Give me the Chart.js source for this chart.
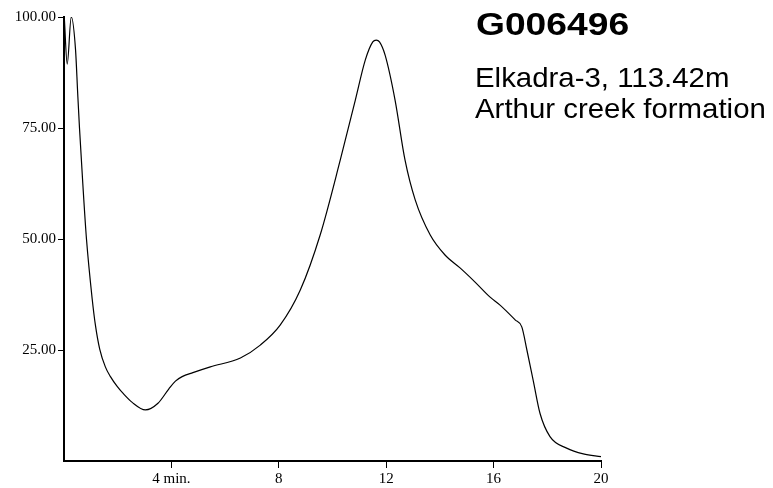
<!DOCTYPE html>
<html>
<head>
<meta charset="utf-8">
<script src="https://cdn.jsdelivr.net/npm/chart.js@4.4.1/dist/chart.umd.min.js"></script>
<style>
  html, body { margin: 0; padding: 0; background: #fff; }
  #wrap { width: 773px; height: 488px; }
</style>
</head>
<body>
<div id="wrap"><canvas id="gpc" width="773" height="488"></canvas></div>
<script>
// elution trace: time (min) vs relative response
const times = [0.01, 0.12, 0.27, 0.43, 0.51, 0.577, 0.7, 0.837, 1.05, 1.17, 1.33, 1.54, 1.73, 1.98, 2.22, 2.54, 3.03, 3.5, 3.9, 4.15, 4.4, 4.8, 5.45, 6.57, 7.31, 8.05, 8.8, 9.54, 10.29, 10.85, 11.22, 11.5, 11.63, 11.75, 11.96, 12.33, 12.7, 13.08, 13.64, 14.19, 14.75, 15.31, 15.87, 16.24, 16.8, 17.05, 17.24, 17.48, 17.73, 18.1, 18.72, 19.34, 20.0];
const response = [100, 89.4, 100, 92.6, 82.8, 75, 62.5, 50, 36.5, 30.6, 25.2, 21.2, 19, 16.8, 15.1, 13.2, 11.5, 13.0, 16.2, 18.0, 19.0, 19.9, 21.2, 23.2, 26.1, 30.6, 38.5, 50.9, 67.8, 81.3, 90.3, 94.4, 94.8, 94.4, 91.4, 81.3, 67.8, 58.8, 50.9, 46.4, 43.5, 40.3, 36.9, 35.1, 31.8, 30.2, 25, 18, 10.7, 5.5, 2.9, 1.6, 1.0];

const xTickValues = [4, 8, 12, 16, 20];
const xTickLabels = ['4 min.', '8', '12', '16', '20'];
const yTickValues = [25, 50, 75, 100];
const yTickLabels = ['25.00', '50.00', '75.00', '100.00'];

const sampleId = 'G006496';
const infoLines = ['Elkadra-3, 113.42m', 'Arthur creek formation'];

const points = times.map((t, i) => ({ x: t, y: response[i] }));

// draws text slightly widened, like the original plot's typeface
function wideText(ctx, text, x, y, sx) {
  ctx.save();
  ctx.translate(x, y);
  ctx.scale(sx, 1);
  ctx.fillText(text, 0, 0);
  ctx.restore();
}

const headerText = {
  id: 'headerText',
  afterDraw(chart) {
    const ctx = chart.ctx;
    ctx.save();
    ctx.fillStyle = '#000';
    ctx.textBaseline = 'alphabetic';
    ctx.textAlign = 'left';
    ctx.font = 'bold 31px "Liberation Sans", Arial, sans-serif';
    wideText(ctx, sampleId, 476, 35, 1.2);
    ctx.font = '28px "Liberation Sans", Arial, sans-serif';
    wideText(ctx, infoLines[0], 475, 87, 1.05);
    wideText(ctx, infoLines[1], 475, 118, 1.05);
    ctx.restore();
  }
};

const serif = { family: '"Liberation Serif", "Times New Roman", serif', size: 15 };

new Chart(document.getElementById('gpc'), {
  type: 'line',
  data: {
    datasets: [{
      data: points,
      borderColor: '#000',
      borderWidth: 1.2,
      pointRadius: 0,
      fill: false,
      cubicInterpolationMode: 'monotone'
    }]
  },
  options: {
    responsive: false,
    animation: false,
    layout: { padding: { top: 17, right: 172, left: 0, bottom: 0 } },
    plugins: { legend: { display: false }, tooltip: { enabled: false } },
    scales: {
      x: {
        type: 'linear',
        min: 0,
        max: 20,
        afterBuildTicks: (scale) => { scale.ticks = xTickValues.map(v => ({ value: v })); },
        afterFit: (scale) => { scale.height = 27; },
        ticks: {
          color: '#000',
          font: serif,
          padding: 2,
          maxRotation: 0,
          autoSkip: false,
          callback: (v) => xTickLabels[xTickValues.indexOf(v)]
        },
        grid: { display: true, drawOnChartArea: false, color: '#000', lineWidth: 1, tickLength: 7 },
        border: { display: true, color: '#000', width: 2 }
      },
      y: {
        min: 0,
        max: 100,
        afterBuildTicks: (scale) => { scale.ticks = yTickValues.map(v => ({ value: v })); },
        afterFit: (scale) => { scale.width = 64; },
        ticks: {
          color: '#000',
          font: serif,
          padding: 2,
          autoSkip: false,
          callback: (v) => yTickLabels[yTickValues.indexOf(v)]
        },
        grid: { display: true, drawOnChartArea: false, color: '#000', lineWidth: 1, tickLength: 6 },
        border: { display: true, color: '#000', width: 2 }
      }
    }
  },
  plugins: [headerText]
});
</script>
</body>
</html>
